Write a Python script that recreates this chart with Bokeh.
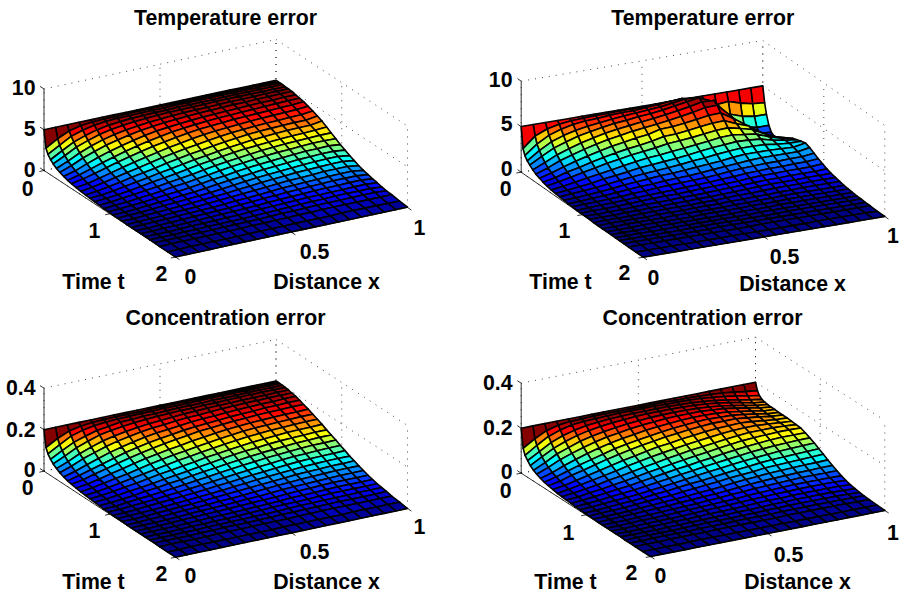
import numpy as np
from bokeh.plotting import figure, ColumnDataSource
from bokeh.models import Range1d
from bokeh.core.properties import value
from bokeh.embed import file_html
from bokeh.resources import INLINE

# ---------- data ----------
distance_x = [0, .05, .1, .15, .2, .25, .3, .35, .4, .45, .5, .55, .6, .65, .7, .75, .8, .85, .9, .95, 1]
time_t = [0, .03, .06, .10, .14, .19, .24, .30, .36, .42, .49, .56, .63, .70, .77, .84, .91, .98, 1.05, 1.12,
          1.19, 1.26, 1.33, 1.40, 1.47, 1.54, 1.61, 1.68, 1.76, 1.88, 2.0]

# each inner list: one x column, values along time_t, in percent of the panel's peak
temp_left = [
 [100,58,46,37,31,25,21,17,14,12,10,8,7,6,5,4,3,3,2,2,2,1,1,1,1,1,1,1,0,0,0],
 [100,75,62,53,45,37,31,25,21,18,14,12,10,8,7,6,5,4,3,3,2,2,2,1,1,1,1,1,1,0,0],
 [100,88,78,68,60,51,44,36,30,25,21,18,15,12,10,9,7,6,5,4,4,3,3,2,2,1,1,1,1,1,0],
 [100,95,87,78,70,62,54,46,39,33,28,24,20,17,14,12,10,8,7,6,5,4,4,3,2,2,2,1,1,1,0],
 [100,98,93,86,79,71,63,55,47,41,35,30,26,22,18,16,13,11,9,8,7,6,5,4,3,3,2,2,1,1,1],
 [100,99,96,91,85,78,70,62,55,48,42,36,31,26,23,19,16,14,11,10,8,7,6,5,4,3,3,2,2,1,1],
 [100,99,98,94,89,83,76,69,62,55,48,42,36,32,27,23,20,16,14,12,10,8,7,6,5,4,3,3,2,1,1],
 [100,100,98,96,92,87,81,75,68,61,54,48,42,36,31,27,23,19,16,14,12,10,8,7,6,5,4,3,2,2,1],
 [100,100,99,97,94,90,85,80,73,66,60,53,47,41,36,31,27,23,19,16,14,12,10,8,7,5,4,4,3,2,1],
 [100,100,99,98,96,92,88,83,78,71,64,58,52,46,41,36,31,27,23,19,16,14,12,10,8,7,5,4,3,2,1],
 [100,100,99,98,97,94,90,86,81,75,69,62,56,50,45,40,35,30,26,22,19,16,13,11,9,8,6,5,4,2,1],
 [100,100,100,99,97,95,92,88,84,79,73,66,60,54,49,44,39,34,29,25,21,18,15,13,11,9,7,6,4,3,1],
 [100,100,100,99,98,96,93,90,86,81,76,70,64,58,53,47,42,37,32,28,24,20,17,14,12,10,8,6,5,3,1],
 [100,100,100,99,98,96,94,91,88,83,78,73,67,61,56,50,45,40,35,30,26,22,19,16,13,11,9,7,5,3,1],
 [100,100,100,99,99,97,95,92,89,85,80,75,70,64,58,53,48,42,37,32,28,24,20,17,14,12,10,8,6,3,1],
 [100,100,100,100,99,98,96,93,90,86,82,77,72,66,60,55,50,44,39,34,30,25,21,18,15,12,10,8,6,4,1],
 [100,100,100,100,99,98,96,94,91,87,83,78,73,68,62,57,51,46,41,36,31,26,22,19,16,13,11,8,6,4,1],
 [100,100,100,100,99,98,97,95,92,88,84,79,74,69,63,58,53,48,42,37,32,28,23,20,16,13,11,9,6,4,1],
 [100,100,100,100,99,99,97,95,93,89,85,80,75,70,64,59,54,48,43,38,33,28,24,20,17,14,11,9,6,4,1],
 [100,100,100,100,99,99,98,96,94,90,86,81,75,70,65,60,54,49,43,38,33,28,24,20,17,14,11,9,6,3,1],
 [100,100,100,100,99,99,98,96,94,92,88,84,79,74,67,60,53,46,40,34,29,24,20,17,14,12,9,7,6,3,1],
]
temp_right = [
 [88,48,37,30,25,20,16,13,10,8,6,5,4,3,2,2,1,1,1,1,0,0,0,0,0,0,0,0,0,0,0],
 [88,68,55,46,38,30,24,19,15,12,9,7,6,4,3,3,2,2,1,1,1,1,0,0,0,0,0,0,0,0,0],
 [88,78,68,59,50,41,34,27,22,17,13,10,8,6,5,4,3,2,2,1,1,1,1,0,0,0,0,0,0,0,0],
 [88,83,76,67,58,49,41,34,27,22,17,13,10,8,6,5,4,3,2,2,1,1,1,1,0,0,0,0,0,0,0],
 [88,86,81,73,65,56,48,40,33,27,21,17,13,10,8,6,5,4,3,2,2,1,1,1,1,0,0,0,0,0,0],
 [88,87,84,77,70,62,54,46,38,32,25,20,16,13,10,8,6,5,4,3,2,2,1,1,1,1,0,0,0,0,0],
 [88,88,85,80,74,67,59,51,43,36,29,23,19,15,12,9,7,6,4,3,3,2,2,1,1,1,1,0,0,0,0],
 [88,88,87,83,78,71,63,55,47,40,33,27,21,17,13,11,8,7,5,4,3,2,2,1,1,1,1,0,0,0,0],
 [88,89,88,85,80,74,67,59,50,43,36,29,23,19,15,12,9,7,6,4,3,3,2,2,1,1,1,1,0,0,0],
 [88,89,88,87,83,77,70,62,54,46,38,31,25,20,16,13,10,8,6,5,4,3,2,2,1,1,1,1,0,0,0],
 [88,89,90,89,85,80,73,68,59,50,41,33,27,22,17,14,11,9,7,5,4,3,2,2,1,1,1,1,0,0,0],
 [88,90,92,91,88,83,76,69,60,52,43,36,30,24,19,15,12,10,8,6,5,4,3,2,2,1,1,1,1,0,0],
 [88,91,94,94,92,87,80,72,63,54,46,39,32,26,21,17,14,11,9,7,6,4,3,3,2,2,1,1,1,0,0],
 [88,92,96,98,96,91,84,75,66,57,49,42,35,28,23,19,15,12,10,8,6,5,4,3,2,2,1,1,1,0,0],
 [88,88,92,97,100,96,89,79,69,60,52,44,37,31,25,21,17,14,11,9,7,5,4,3,3,2,2,1,1,0,0],
 [88,72,72,80,90,95,90,80,70,61,53,46,39,33,27,22,18,15,12,10,8,6,5,4,3,2,2,1,1,1,0],
 [88,70,52,48,60,65,68,66,60,56,50,45,39,33,28,23,19,15,12,10,8,6,5,4,3,2,2,1,1,1,0],
 [88,72,50,32,32,38,45,50,52,50,47,43,38,33,28,23,19,16,13,10,8,7,5,4,3,2,2,1,1,1,0],
 [88,65,42,24,16,14,20,29,36,38,38,37,35,32,28,24,20,16,13,11,9,7,5,4,3,2,2,1,1,1,0],
 [88,60,38,20,12,8,10,16,23,28,31,33,33,31,28,24,20,16,13,11,9,7,5,4,3,2,2,1,1,1,0],
 [88,58,38,20,10,6,6,10,16,22,27,30,33,35,32,27,22,18,14,11,9,7,5,4,3,2,2,1,1,0,0],
]
conc_left = [
 [100,60,48,39,32,26,21,17,14,12,10,8,7,6,5,4,3,3,2,2,2,1,1,1,1,1,1,1,0,0,0],
 [100,76,64,54,45,37,31,25,21,17,14,12,10,8,7,5,4,4,3,3,2,2,2,1,1,1,1,1,1,0,0],
 [100,88,79,68,59,50,43,35,29,25,20,17,14,12,10,8,7,6,5,4,3,3,2,2,2,1,1,1,1,1,0],
 [100,94,87,77,69,60,52,44,37,32,27,23,19,16,14,11,10,8,7,5,5,4,3,3,2,2,2,1,1,1,0],
 [100,97,92,85,78,69,61,53,45,39,33,28,24,20,17,15,12,10,9,7,6,5,4,4,3,3,2,2,1,1,0],
 [100,98,95,89,83,75,68,60,53,46,40,34,29,25,21,18,15,13,11,9,8,7,6,5,4,3,3,2,2,1,0],
 [100,99,97,93,87,80,73,66,59,52,46,40,34,30,25,22,18,15,13,11,9,8,7,6,5,4,3,3,2,1,0],
 [100,99,97,94,90,84,78,72,65,58,51,45,39,34,29,25,21,18,15,13,11,9,8,7,5,4,4,3,2,1,0],
 [100,99,98,96,92,87,82,76,69,63,56,50,44,38,33,29,25,21,18,15,13,11,9,8,6,5,4,3,2,1,0],
 [100,99,98,96,94,89,84,79,73,67,60,54,48,42,37,33,28,24,21,17,15,12,10,9,7,6,5,4,3,1,0],
 [100,100,99,97,95,91,87,82,77,71,65,58,52,47,41,36,32,27,23,20,17,14,12,10,8,7,5,4,3,2,0],
 [100,100,99,98,96,93,89,85,80,75,68,62,56,50,45,40,35,30,26,22,19,16,13,11,9,8,6,5,3,2,0],
 [100,100,99,98,96,94,90,87,82,77,72,66,60,54,49,43,38,33,29,25,21,18,15,12,10,9,7,5,4,2,0],
 [100,100,100,98,97,95,92,88,84,80,75,69,63,57,52,46,41,36,31,27,23,20,17,14,12,9,8,6,4,2,0],
 [100,100,100,99,97,96,93,90,86,82,77,72,66,60,54,49,44,38,34,29,25,21,18,15,12,10,8,6,5,2,0],
 [100,100,100,99,98,96,94,91,87,83,79,74,68,62,57,51,46,41,36,31,27,23,19,16,13,11,9,7,5,2,0],
 [100,100,100,99,98,97,95,92,88,85,80,75,70,64,59,53,48,43,38,33,28,24,20,17,14,12,9,7,5,3,0],
 [100,100,100,100,99,97,95,93,90,86,81,76,71,66,60,55,50,44,39,34,29,25,21,18,15,12,9,7,5,3,0],
 [100,100,100,100,99,97,96,93,90,86,82,77,72,67,61,56,51,45,40,35,30,26,22,18,15,12,10,7,5,3,0],
 [100,100,100,100,99,98,96,94,91,87,82,78,73,67,62,57,51,46,40,35,30,26,22,18,15,12,10,7,5,3,0],
 [100,100,100,100,99,98,96,94,91,87,83,78,73,68,62,57,52,46,41,35,31,26,22,18,15,12,10,8,5,3,0],
]
conc_right = [
 [100,58,45,37,30,24,20,16,13,11,9,7,6,5,4,3,3,2,2,2,1,1,1,1,1,1,0,0,0,0,0],
 [100,74,62,52,44,36,30,24,20,16,13,11,9,7,6,5,4,3,3,2,2,2,1,1,1,1,1,0,0,0,0],
 [100,87,77,67,58,50,42,34,28,24,19,16,13,11,9,7,6,5,4,3,3,2,2,2,1,1,1,1,0,0,0],
 [100,94,86,77,68,59,51,43,36,30,25,21,17,14,12,10,8,7,5,4,4,3,3,2,2,1,1,1,1,0,0],
 [100,97,92,84,76,68,59,51,43,37,31,26,22,18,15,12,10,8,7,6,5,4,3,3,2,2,1,1,1,1,0],
 [100,98,95,89,82,74,66,58,50,44,37,31,26,22,18,15,12,10,9,7,6,5,4,3,3,2,2,1,1,1,0],
 [100,99,96,92,86,79,72,64,57,50,43,37,31,26,22,18,15,13,11,9,7,6,5,4,3,3,2,2,1,1,0],
 [100,99,97,94,89,83,76,69,62,55,48,42,36,31,26,22,18,15,12,10,9,7,6,5,4,3,3,2,2,1,0],
 [100,99,98,95,91,86,80,73,66,60,53,47,40,35,30,25,21,18,15,12,10,8,7,6,5,4,3,2,2,1,0],
 [100,99,98,96,93,88,83,77,70,64,58,51,45,39,34,29,24,21,17,14,12,10,8,7,5,4,3,3,2,1,0],
 [100,99,98,96,94,90,85,80,74,68,61,55,49,43,37,32,28,23,20,16,13,11,9,8,6,5,4,3,2,1,0],
 [100,99,98,96,94,91,87,82,77,71,65,59,53,47,41,36,31,26,22,18,15,13,10,9,7,5,4,3,2,1,0],
 [100,99,97,96,94,91,88,84,79,74,68,62,56,50,44,39,34,29,25,21,17,14,12,10,8,6,5,3,2,1,0],
 [100,98,97,95,93,91,88,85,81,76,71,65,59,54,48,42,37,32,27,23,19,16,13,11,9,7,5,4,3,1,0],
 [100,98,96,94,92,90,88,85,82,78,73,68,62,57,51,45,40,34,29,25,21,17,14,12,9,7,6,4,3,1,0],
 [100,97,95,92,90,88,86,84,81,78,74,70,65,60,54,48,42,37,32,27,22,18,15,12,10,8,6,4,3,1,0],
 [100,96,92,89,87,85,84,82,80,78,75,71,67,62,56,50,44,39,33,28,23,19,16,13,10,8,6,4,3,1,0],
 [100,94,89,85,83,81,80,78,77,75,73,71,67,63,58,52,46,40,34,29,24,20,16,13,10,8,6,4,3,1,0],
 [100,91,85,80,78,76,75,74,73,72,70,69,67,64,59,53,47,41,35,30,24,20,16,13,10,8,6,4,3,1,0],
 [100,87,80,75,72,71,70,69,68,68,67,67,66,64,59,54,48,42,36,30,25,20,16,13,10,7,5,4,2,1,0],
 [100,84,76,71,69,68,67,67,66,66,66,65,64,63,59,54,49,43,37,31,25,20,15,11,8,6,4,3,2,1,0],
]
peak_temp_left = 5.0
peak_temp_right = 5.7
peak_conc = 0.2

x_ticks = [0, 0.5, 1]
t_ticks = [0, 1, 2]
titles = ["Temperature error", "Temperature error", "Concentration error", "Concentration error"]
x_label = "Distance x"
t_label = "Time t"

# ---------- layout: page-pixel anchors of each 3-D box ----------
FONT = "Liberation Sans"
FS = "21.3px"
panels = [
 dict(vals=temp_left, peak=peak_temp_left, zmax=10, zt=[0, 5, 10], zl=["0", "5", "10"], title=titles[0],
      O=(43.5, 170), Z=(43.5, 88.5), T=(175, 256.5), X1=(407, 207),
      title_at=(225, 17), zright=35, zy=[169, 128, 86.7], t0=(33, 188), t_at=[(94, 230), (161, 273)],
      x_at=[(190, 276), (314, 251), (419, 227)], tl=(93, 281), xl=(326, 281)),
 dict(vals=temp_right, peak=peak_temp_right, zmax=10, zt=[0, 5, 10], zl=["0", "5", "10"], title=titles[1],
      O=(520.7, 171.7), Z=(520.7, 80.7), T=(642.7, 256.7), X1=(884.3, 216),
      title_at=(702.3, 17), zright=512, zy=[168, 123, 79], t0=(511, 188), t_at=[(564, 230), (624, 272)],
      x_at=[(653, 277), (784, 256), (892.5, 235)], tl=(560, 281), xl=(792, 283)),
 dict(vals=conc_left, peak=peak_conc, zmax=.4, zt=[0, .2, .4], zl=["0", "0.2", "0.4"], title=titles[2],
      O=(43.5, 470.7), Z=(43.5, 387.7), T=(175, 556.7), X1=(407, 508),
      title_at=(225, 317), zright=35, zy=[469, 429, 387], t0=(33, 487), t_at=[(94, 530), (161, 573)],
      x_at=[(190, 575), (314, 551), (419, 526)], tl=(93, 581), xl=(326, 581)),
 dict(vals=conc_right, peak=peak_conc, zmax=.4, zt=[0, .2, .4], zl=["0", "0.2", "0.4"], title=titles[3],
      O=(520.7, 472.7), Z=(520.7, 382.7), T=(650, 556), X1=(884.3, 510),
      title_at=(702, 317), zright=512, zy=[471, 427, 382], t0=(511, 490), t_at=[(568, 532), (631, 572)],
      x_at=[(660, 575), (788, 554), (892.5, 532)], tl=(565, 581), xl=(797, 581)),
]


def jet(f):
    i = min(int(f * 64), 63)
    v = (i + 0.5) / 64
    r = np.clip(min(4 * v - 1.5, -4 * v + 4.5), 0, 1)
    g = np.clip(min(4 * v - 0.5, -4 * v + 3.5), 0, 1)
    b = np.clip(min(4 * v + 0.5, -4 * v + 2.5), 0, 1)
    return "#%02x%02x%02x" % (int(r * 255), int(g * 255), int(b * 255))


p = figure(width=899, height=597, x_range=Range1d(0, 899), y_range=Range1d(597, 0),
           x_axis_location=None, y_axis_location=None, toolbar_location=None,
           output_backend="svg", min_border=0, outline_line_color=None,
           background_fill_color="white", border_fill_color="white")
p.grid.visible = False

X_AX = np.array(distance_x)
T_AX = np.array(time_t)

for pan in panels:
    O = np.array(pan["O"], float)
    vx = (np.array(pan["X1"], float) - np.array(pan["T"], float)) / 1.0
    vt = (np.array(pan["T"], float) - O) / 2.0
    vz = (np.array(pan["Z"], float) - O) / pan["zmax"]

    def proj(x, t, z):
        q = O + np.multiply.outer(np.asarray(x, float), vx) + np.multiply.outer(np.asarray(t, float), vt) \
            + np.multiply.outer(np.asarray(z, float), vz)
        return q

    zmax = pan["zmax"]
    # dotted grid on the two back walls and the floor
    gx, gy = [], []
    def seg(a, b):
        pa, pb = proj(*a), proj(*b)
        gx.append([pa[0], pb[0]])
        gy.append([pa[1], pb[1]])
    for zt in pan["zt"]:
        seg((0, 0, zt), (1, 0, zt))
        seg((1, 0, zt), (1, 2, zt))
    for xt in x_ticks:
        seg((xt, 0, 0), (xt, 0, zmax))
        seg((xt, 0, 0), (xt, 2, 0))
    for tt in t_ticks:
        seg((1, tt, 0), (1, tt, zmax))
        seg((0, tt, 0), (1, tt, 0))
    p.multi_line(gx, gy, line_color="#000000", line_width=0.9, line_dash="1 6", line_alpha=0.8)

    # surface, painted from the far corner to the near corner
    vals = np.array(pan["vals"], float) * pan["peak"] / 100.0   # [x index, t index]
    zhi = vals.max()
    faces = []
    for i in range(len(X_AX) - 1):
        for j in range(len(T_AX) - 1):
            ii = [i, i + 1, i + 1, i]
            jj = [j, j, j + 1, j + 1]
            c = proj(X_AX[ii], T_AX[jj], vals[ii, jj])
            depth = j * 1.0 - i * 1.0
            faces.append((depth, c[:, 0].tolist(), c[:, 1].tolist(), jet(vals[i, j] / zhi)))
    faces.sort(key=lambda f: f[0])
    src = ColumnDataSource(dict(xs=[f[1] for f in faces], ys=[f[2] for f in faces], col=[f[3] for f in faces]))
    p.patches("xs", "ys", source=src, fill_color="col", line_color="black", line_width=1.6, line_join="round")

    # solid axes and ticks
    ax, ay = [], []
    def solid(a, b):
        ax.append([a[0], b[0]])
        ay.append([a[1], b[1]])
    solid(proj(0, 0, 0), proj(0, 0, zmax))
    solid(proj(0, 0, 0), proj(0, 2, 0))
    solid(proj(0, 2, 0), proj(1, 2, 0))
    for zt in pan["zt"]:
        solid(proj(0, 0, zt), proj(0, -0.06, zt))
    for tt in t_ticks:
        solid(proj(0, tt, 0), proj(-0.02, tt, 0))
    for xt in x_ticks:
        solid(proj(xt, 2, 0), proj(xt, 2.06, 0))
    p.multi_line(ax, ay, line_color="black", line_width=0.8)

    # texts
    def txt(xs, ys, ss, align="center"):
        p.text(xs, ys, text=ss, text_font=value(FONT), text_font_size=value(FS), text_font_style="bold",
               text_align=align, text_baseline="middle", text_color="black")
    txt([pan["title_at"][0]], [pan["title_at"][1]], [pan["title"]])
    txt([pan["zright"]] * 3, pan["zy"], pan["zl"], "right")
    txt([pan["t0"][0]], [pan["t0"][1]], [str(t_ticks[0])], "right")
    txt([q[0] for q in pan["t_at"]], [q[1] for q in pan["t_at"]], [str(t) for t in t_ticks[1:]])
    txt([q[0] for q in pan["x_at"]], [q[1] for q in pan["x_at"]], [str(x) for x in x_ticks])
    txt([pan["tl"][0]], [pan["tl"][1]], [t_label])
    txt([pan["xl"][0]], [pan["xl"][1]], [x_label])

open("out.html", "w").write(file_html(p, INLINE))
